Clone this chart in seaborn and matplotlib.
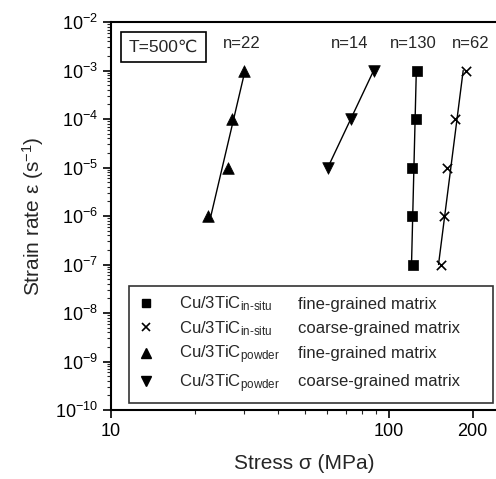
import numpy as np
import pandas as pd
import matplotlib
matplotlib.use("Agg")
import matplotlib.pyplot as plt
import seaborn as sns
from matplotlib.lines import Line2D

# ---- data ----
rate_insitu = [1e-3, 1e-4, 1e-5, 1e-6, 1e-7]
stress_insitu_fine = [126, 125, 121, 120.7, 122]
stress_insitu_coarse = [190, 173, 162, 158, 154]
rate_powder_fine = [1e-3, 1e-4, 1e-5, 1e-6]
stress_powder_fine = [30.2, 27.2, 26.3, 22.3]
rate_powder_coarse = [1e-3, 1e-4, 1e-5]
stress_powder_coarse = [88, 73, 60.2]
n_labels = ["n=22", "n=14", "n=130", "n=62"]
legend_materials = [
    r"Cu/3TiC$_{\mathregular{in\text{-}situ}}$",
    r"Cu/3TiC$_{\mathregular{in\text{-}situ}}$",
    r"Cu/3TiC$_{\mathregular{powder}}$",
    r"Cu/3TiC$_{\mathregular{powder}}$",
]
legend_matrices = [
    "fine-grained matrix",
    "coarse-grained matrix",
    "fine-grained matrix",
    "coarse-grained matrix",
]

sns.set_style("ticks")
plt.rcParams["font.family"] = ["Liberation Sans", "DejaVu Sans"]
plt.rcParams["mathtext.fontset"] = "custom"
plt.rcParams["mathtext.rm"] = "Liberation Sans"
plt.rcParams["mathtext.it"] = "Liberation Sans"

fig = plt.figure(figsize=(4.96, 4.79), dpi=100)
W, H = 496, 479
x0, x1 = 111, 497
y0, y1 = 410, 22
ax = fig.add_axes([x0 / W, 1 - y0 / H, (x1 - x0) / W, (y0 - y1) / H])

series = [
    (stress_insitu_fine, rate_insitu, "s", 45),
    (stress_insitu_coarse, rate_insitu, "x", 45),
    (stress_powder_fine, rate_powder_fine, "^", 70),
    (stress_powder_coarse, rate_powder_coarse, "v", 70),
]

for st, rt, mk, sz in series:
    df = pd.DataFrame({"stress": st, "rate": rt})
    b, a = np.polyfit(np.log10(df["rate"]), np.log10(df["stress"]), 1)
    ly = np.log10([min(rt), max(rt)])
    fit = pd.DataFrame({"stress": 10 ** (a + b * ly), "rate": 10 ** ly})
    sns.lineplot(data=fit, x="stress", y="rate", color="black", lw=1.0, ax=ax,
                 estimator=None, sort=False)
    if mk == "x":
        sns.scatterplot(data=df, x="stress", y="rate", marker="x", color="black",
                        s=sz, linewidth=1.2, ax=ax, zorder=3)
    else:
        sns.scatterplot(data=df, x="stress", y="rate", marker=mk, color="black",
                        s=sz, edgecolor="black", linewidth=0.5, ax=ax, zorder=3)

ax.set_xscale("log")
ax.set_yscale("log")
ax.set_xlim(10, 10 ** (1 + (x1 - x0) / 278))
ax.set_ylim(1e-10, 1e-2)
ax.set_xticks([10, 100, 200])
ax.set_xticklabels(["10", "100", "200"])
ax.set_yticks([10.0 ** k for k in range(-10, -1)])
ax.yaxis.set_minor_locator(matplotlib.ticker.LogLocator(base=10, subs=np.arange(2, 10), numticks=20))
ax.xaxis.set_minor_locator(matplotlib.ticker.LogLocator(base=10, subs=np.arange(2, 10), numticks=20))
ax.xaxis.set_minor_formatter(matplotlib.ticker.NullFormatter())
ax.tick_params(which="major", direction="out", length=6, width=1.2, labelsize=13, colors="black")
ax.tick_params(which="minor", direction="out", length=3, width=0.8)
ax.spines["right"].set_visible(False)
for s in ["left", "bottom", "top"]:
    ax.spines[s].set_linewidth(1.5)
    ax.spines[s].set_color("black")

ax.set_xlabel("Stress σ (MPa)", fontsize=15, labelpad=10)
ax.set_ylabel("Strain rate ε (s$^{-1}$)", fontsize=15, labelpad=6)

n_pos = [29.5, 72, 122, 197]
for lbl, xp in zip(n_labels, n_pos):
    ax.text(xp, 10 ** -2.45, lbl, ha="center", va="center", fontsize=12)

ax.text(0.045, 0.955, "T=500℃", transform=ax.transAxes, ha="left", va="top", fontsize=12.5,
        bbox=dict(boxstyle="square,pad=0.45", fc="white", ec="black", lw=1.2))

handles = [
    Line2D([], [], ls="none", marker="s", color="black", ms=6),
    Line2D([], [], ls="none", marker="x", color="black", ms=6, mew=1.2),
    Line2D([], [], ls="none", marker="^", color="black", ms=7),
    Line2D([], [], ls="none", marker="v", color="black", ms=7),
]
leg = ax.legend(handles, legend_materials, loc="lower left",
                bbox_to_anchor=(0.047, 0.018, 0.943, 0.325), mode="expand",
                borderaxespad=0, frameon=True, fancybox=False, edgecolor="black",
                fontsize=12, handletextpad=1.5, borderpad=0.5, labelspacing=0.35,
                handlelength=1.0)
leg.get_frame().set_linewidth(1.2)

fig.canvas.draw()
for t, m in zip(leg.get_texts(), legend_matrices):
    bb = t.get_window_extent()
    fig.text(298 / W, (bb.y1 - 14) / H, m, ha="left", va="baseline", fontsize=12)

fig.savefig("out.png", dpi=100)
